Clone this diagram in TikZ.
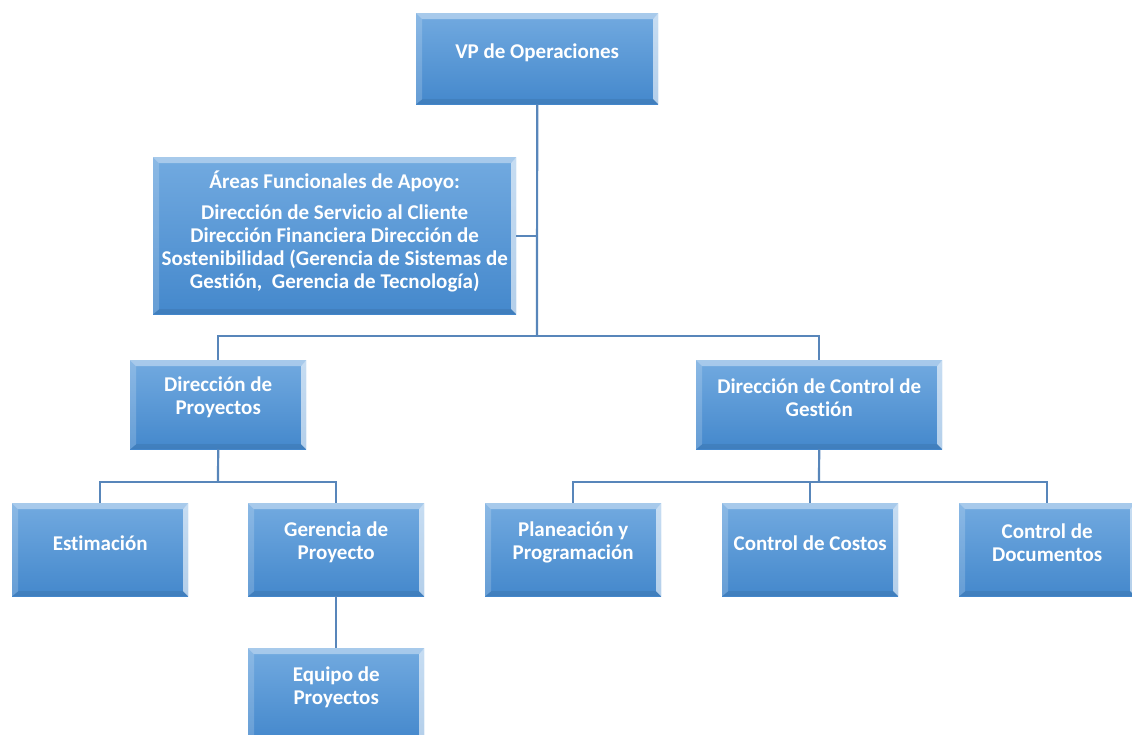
\documentclass[tikz,border=0pt]{standalone}
\usepackage{fontspec}
\setmainfont{Carlito}[Ligatures=NoCommon]
\usetikzlibrary{calc}
\definecolor{boxtop}{RGB}{114,170,224}
\definecolor{boxbot}{RGB}{68,136,204}
\definecolor{linkblue}{RGB}{88,134,186}
\tikzset{
  orgbox/.style={anchor=north west, inner sep=0pt, draw=none,
    top color=boxtop, bottom color=boxbot,
    minimum width=#1, path picture={
      \path (path picture bounding box.north west) coordinate (bnw)
            (path picture bounding box.north east) coordinate (bne)
            (path picture bounding box.south west) coordinate (bsw)
            (path picture bounding box.south east) coordinate (bse);
      % top bevel
      \fill[white,opacity=.38] (bnw) -- (bne) -- ([shift={(-5pt,-6pt)}]bne)
            -- ([shift={(6pt,-6pt)}]bnw) -- cycle;
      % left bevel
      \fill[white,opacity=.18] (bnw) -- ([shift={(6pt,-6pt)}]bnw)
            -- ([shift={(6pt,5pt)}]bsw) -- (bsw) -- cycle;
      % right bevel
      \fill[white,opacity=.6] (bne) -- ([shift={(-5pt,-6pt)}]bne)
            -- ([shift={(-5pt,5pt)}]bse) -- (bse) -- cycle;
      % bottom bevel
      \fill[black,opacity=.07] (bsw) -- ([shift={(6pt,5pt)}]bsw)
            -- ([shift={(-5pt,5pt)}]bse) -- (bse) -- cycle;
    }},
  boxtext/.style={text=white, font=\bfseries\fontsize{21}{23}\selectfont,
    align=center, inner sep=0pt},
  link/.style={draw=linkblue, line width=2.2pt}
}
\begin{document}
\begin{tikzpicture}[x=1pt,y=-1pt]
\useasboundingbox (0,0) rectangle (1132,734);

% boxes
\node[orgbox=242pt, minimum height=91pt]  (vp)    at (416,13)  {};
\node[orgbox=363pt, minimum height=157pt] (areas) at (153,157) {};
\node[orgbox=176pt, minimum height=89pt]  (dp)    at (130,360) {};
\node[orgbox=246pt, minimum height=89pt]  (dcg)   at (696,360) {};
\node[orgbox=176pt, minimum height=93pt]  (est)   at (12,503)  {};
\node[orgbox=176pt, minimum height=93pt]  (gp)    at (248,503) {};
\node[orgbox=176pt, minimum height=93pt]  (pp)    at (485,503) {};
\node[orgbox=176pt, minimum height=93pt]  (cc)    at (722,503) {};
\node[orgbox=176pt, minimum height=93pt]  (cd)    at (959,503) {};
\node[orgbox=176pt, minimum height=93pt]  (eq)    at (248,648) {};

% labels
\node[boxtext] (vp-t)    at ($(vp.center)+(0,-6)$)    {VP de Operaciones};
\node[boxtext] (areas-t) at ($(areas.center)+(0,-4)$) {Áreas Funcionales de Apoyo:\\[8pt]
  Dirección de Servicio al Cliente\\ Dirección Financiera Dirección de\\
  Sostenibilidad (Gerencia de Sistemas de\\ Gestión,\ \ Gerencia de Tecnología)};
\node[boxtext] (dp-t)    at ($(dp.center)+(0,-7)$)    {Dirección de\\Proyectos};
\node[boxtext] (dcg-t)   at ($(dcg.center)+(0,-7)$)   {Dirección de Control de\\Gestión};
\node[boxtext] (est-t)   at ($(est.center)+(0,-6)$)   {Estimación};
\node[boxtext] (gp-t)    at ($(gp.center)+(0,-7)$)    {Gerencia de\\Proyecto};
\node[boxtext] (pp-t)    at ($(pp.center)+(0,-7)$)    {Planeación y\\Programación};
\node[boxtext] (cc-t)    at ($(cc.center)+(0,-6)$)    {Control de Costos};
\node[boxtext] (cd-t)    at ($(cd.center)+(0,-7)$)    {Control de\\Documentos};
\node[boxtext] (eq-t)    at ($(eq.center)+(0,-7)$)    {Equipo de\\Proyectos};

% junctions
\coordinate (j1) at (537,336);
\coordinate (j2) at (218,482);
\coordinate (j3) at (819,482);

% connectors
\draw[link] (vp.south) -- (j1);
\draw[link] (areas.east) -- (areas.east -| vp.south);
\draw[link] (dp.north) |- (j1) -| (dcg.north);
\draw[link] (dp.south) -- (j2);
\draw[link] (est.north) |- (j2) -| (gp.north);
\draw[link] (dcg.south) -- (j3);
\draw[link] (pp.north) |- (j3) -| (cd.north);
\draw[link] (cc.north) -- (cc.north |- j3);
\draw[link] (gp.south) -- (eq.north);
\end{tikzpicture}
\end{document}
